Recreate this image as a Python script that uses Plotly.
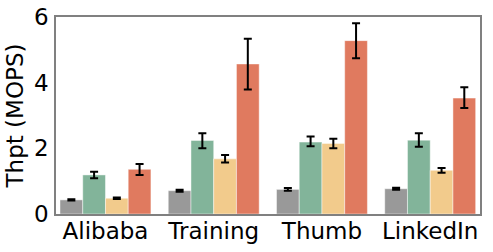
import plotly.graph_objects as go

categories = ["Alibaba", "Training", "Thumb", "LinkedIn"]
series_names = ["S1", "S2", "S3", "S4"]
colors = ["#999999", "#82b49a", "#f2cb8c", "#e07a5f"]

values = [
    [0.43, 0.71, 0.75, 0.77],
    [1.19, 2.24, 2.19, 2.25],
    [0.48, 1.68, 2.15, 1.33],
    [1.36, 4.57, 5.28, 3.53],
]
err_plus = [
    [0.02, 0.03, 0.04, 0.03],
    [0.10, 0.22, 0.17, 0.21],
    [0.02, 0.12, 0.14, 0.07],
    [0.16, 0.77, 0.53, 0.33],
]
err_minus = [
    [0.02, 0.03, 0.04, 0.03],
    [0.10, 0.24, 0.13, 0.20],
    [0.02, 0.11, 0.15, 0.07],
    [0.17, 0.78, 0.54, 0.30],
]

fig = go.Figure()
for name, col, v, ep, em in zip(series_names, colors, values, err_plus, err_minus):
    fig.add_trace(go.Bar(
        x=categories, y=v, name=name,
        marker=dict(color=col, line=dict(color="rgba(255,255,255,0.45)", width=1)),
        error_y=dict(type="data", array=ep, arrayminus=em, visible=True,
                     color="black", thickness=2, width=4),
    ))

font = dict(family="DejaVu Sans", size=23, color="black")
fig.update_layout(
    width=493, height=252,
    margin=dict(l=56, r=13, t=17, b=38),
    barmode="group", bargap=0.16, bargroupgap=0,
    showlegend=False,
    plot_bgcolor="white", paper_bgcolor="white",
    font=font,
)
fig.update_xaxes(range=[-0.457, 3.46], showline=True, mirror=True,
                 linecolor="#808080", linewidth=1.5, ticks="", showgrid=False,
                 tickfont=font, automargin=False, ticklabelstandoff=-4)
fig.update_yaxes(range=[0, 6], tickvals=[0, 2, 4, 6], showline=True, mirror=True,
                 linecolor="#808080", linewidth=1.5, ticks="", showgrid=False,
                 zeroline=False, tickfont=font, ticklabelstandoff=1, automargin=False,
                 title=dict(text="Thpt (MOPS)", font=font, standoff=4))
fig.write_html("out.html", config={"displayModeBar": False},
               post_script="document.body.style.margin='0';")
